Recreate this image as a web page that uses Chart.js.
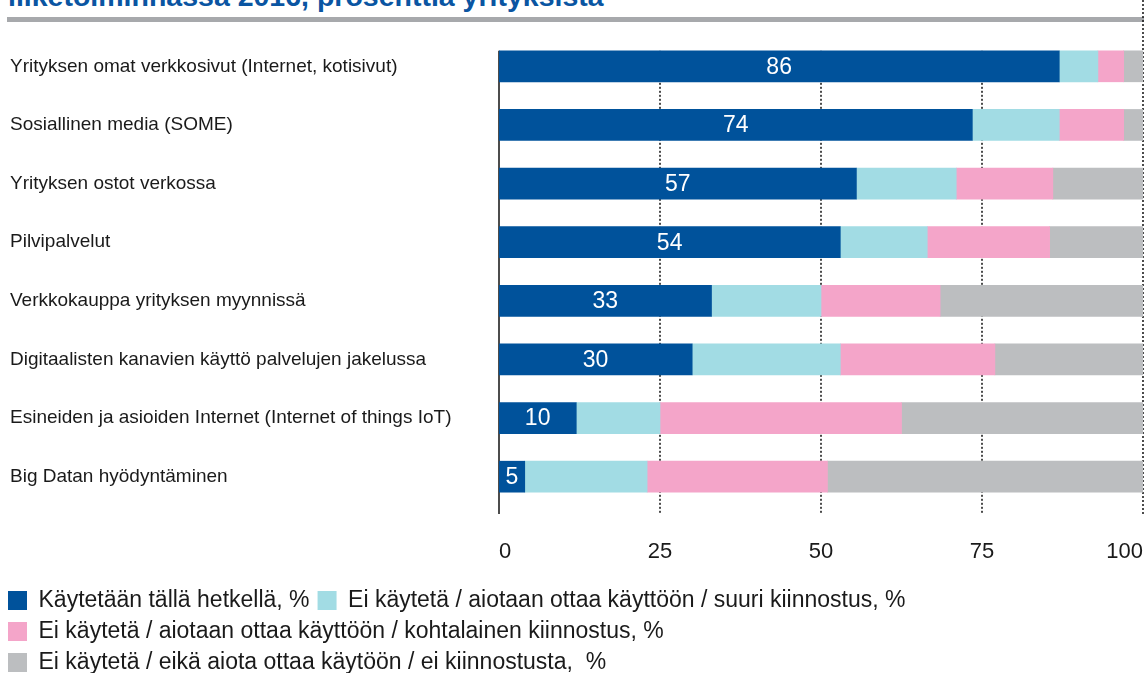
<!DOCTYPE html>
<html lang="fi">
<head>
<meta charset="utf-8">
<script src="https://cdn.jsdelivr.net/npm/chart.js@4.4.1/dist/chart.umd.min.js"></script>
<style>
  html, body { margin: 0; padding: 0; background: #fff; overflow: hidden; }
  body { width: 1148px; height: 673px; position: relative; font-family: "Liberation Sans", Arial, sans-serif; }
  #title { position: absolute; left: 8px; top: -18px; font-size: 28.5px; line-height: 28px; font-weight: bold; color: #0a55a2; white-space: nowrap; }
  #rule { position: absolute; left: 7px; top: 17px; width: 1137px; height: 5px; background: #a7a9ac; }
  #wrap { position: absolute; left: 0; top: 0; width: 1148px; height: 684px; }
</style>
</head>
<body>
<div id="title">liiketoiminnassa 2016, prosenttia yrityksistä</div>
<div id="rule"></div>
<div id="wrap"><canvas id="digiChart"></canvas></div>
<script>
// kategoriat ja sarjat (osuudet luettu kuvasta, %)
var categories = [
    'Yrityksen omat verkkosivut (Internet, kotisivut)',
    'Sosiallinen media (SOME)',
    'Yrityksen ostot verkossa',
    'Pilvipalvelut',
    'Verkkokauppa yrityksen myynnissä',
    'Digitaalisten kanavien käyttö palvelujen jakelussa',
    'Esineiden ja asioiden Internet (Internet of things IoT)',
    'Big Datan hyödyntäminen'
];
var seriesNames = [
    'Käytetään tällä hetkellä, %',
    'Ei käytetä / aiotaan ottaa käyttöön / suuri kiinnostus, %',
    'Ei käytetä / aiotaan ottaa käyttöön / kohtalainen kiinnostus, %',
    'Ei käytetä / eikä aiota ottaa käytöön / ei kiinnostusta,  %'
];
var inUse      = [87, 73.5, 55.5, 53, 33, 30, 12, 4];
var highInt    = [6, 13.5, 15.5, 13.5, 17, 23, 13, 19];
var midInt     = [4, 10, 15, 19, 18.5, 24, 37.5, 28];
var noInt      = [3, 3, 14, 14.5, 31.5, 23, 37.5, 49];
var inUseLabels = ['86', '74', '57', '54', '33', '30', '10', '5'];
var xTicks = [0, 25, 50, 75, 100];

var COLORS = ['#00529b', '#a2dce4', '#f4a5c9', '#bcbec0'];
var FONT = '"Liberation Sans", Arial, sans-serif';

var overlayPlugin = {
    id: 'overlay',
    afterLayout: function(chart) {
        // nimiöt 10px vasemmasta reunasta
        chart.scales.y.left += 10;
    },
    beforeDatasetsDraw: function(chart) {
        var ctx = chart.ctx;
        var xs = chart.scales.x;
        var first = chart.getDatasetMeta(0).data[0];
        var top = first.y - first.height / 2;
        var bottom = chart.chartArea.bottom + 8;
        ctx.save();
        ctx.strokeStyle = '#111';
        ctx.lineWidth = 1.5;
        ctx.setLineDash([2, 2]);
        xTicks.forEach(function(v) {
            if (v === 0) return;
            var px = xs.getPixelForValue(v);
            ctx.beginPath();
            ctx.moveTo(px, v === 100 ? 0 : top);
            ctx.lineTo(px, bottom);
            ctx.stroke();
        });
        ctx.setLineDash([]);
        var x0 = xs.getPixelForValue(0);
        ctx.beginPath();
        ctx.moveTo(x0, top);
        ctx.lineTo(x0, bottom);
        ctx.stroke();
        ctx.restore();
    },
    afterDatasetsDraw: function(chart) {
        var ctx = chart.ctx;
        ctx.save();
        ctx.fillStyle = '#fff';
        ctx.font = '23px ' + FONT;
        ctx.textAlign = 'center';
        ctx.textBaseline = 'middle';
        chart.getDatasetMeta(0).data.forEach(function(bar, i) {
            var c = bar.getCenterPoint();
            ctx.fillText(inUseLabels[i], c.x, c.y + 1);
        });
        ctx.restore();
    }
};

var allSeries = [inUse, highInt, midInt, noInt];
var datasets = allSeries.map(function(d, i) {
    return {
        label: seriesNames[i],
        data: d,
        backgroundColor: COLORS[i],
        borderWidth: 0,
        barThickness: 31
    };
});

new Chart(document.getElementById('digiChart'), {
    type: 'bar',
    data: { labels: categories, datasets: datasets },
    plugins: [overlayPlugin],
    options: {
        indexAxis: 'y',
        responsive: true,
        maintainAspectRatio: false,
        animation: false,
        layout: { padding: { top: 37, left: 0, right: 5, bottom: 0 } },
        scales: {
            x: {
                stacked: true,
                min: 0,
                max: 100,
                afterBuildTicks: function(s) { s.ticks = xTicks.map(function(v) { return { value: v }; }); },
                afterFit: function(s) { s.height = 75; s.paddingRight = 0; s.paddingLeft = 0; },
                grid: { display: false, drawTicks: false },
                border: { display: false },
                ticks: { align: 'inner', padding: 33, maxRotation: 0, color: '#1a1a1a', font: { size: 22, family: FONT } }
            },
            y: {
                stacked: true,
                afterFit: function(s) { s.width = 499; },
                grid: { display: false, drawTicks: false },
                border: { display: false },
                ticks: { crossAlign: 'far', color: '#1a1a1a', font: { size: 19, family: FONT } }
            }
        },
        plugins: {
            legend: {
                position: 'bottom',
                align: 'start',
                labels: { boxWidth: 19, boxHeight: 19, padding: 8, color: '#1a1a1a', font: { size: 23, family: FONT } }
            },
            tooltip: { enabled: false }
        }
    }
});
</script>
</body>
</html>
